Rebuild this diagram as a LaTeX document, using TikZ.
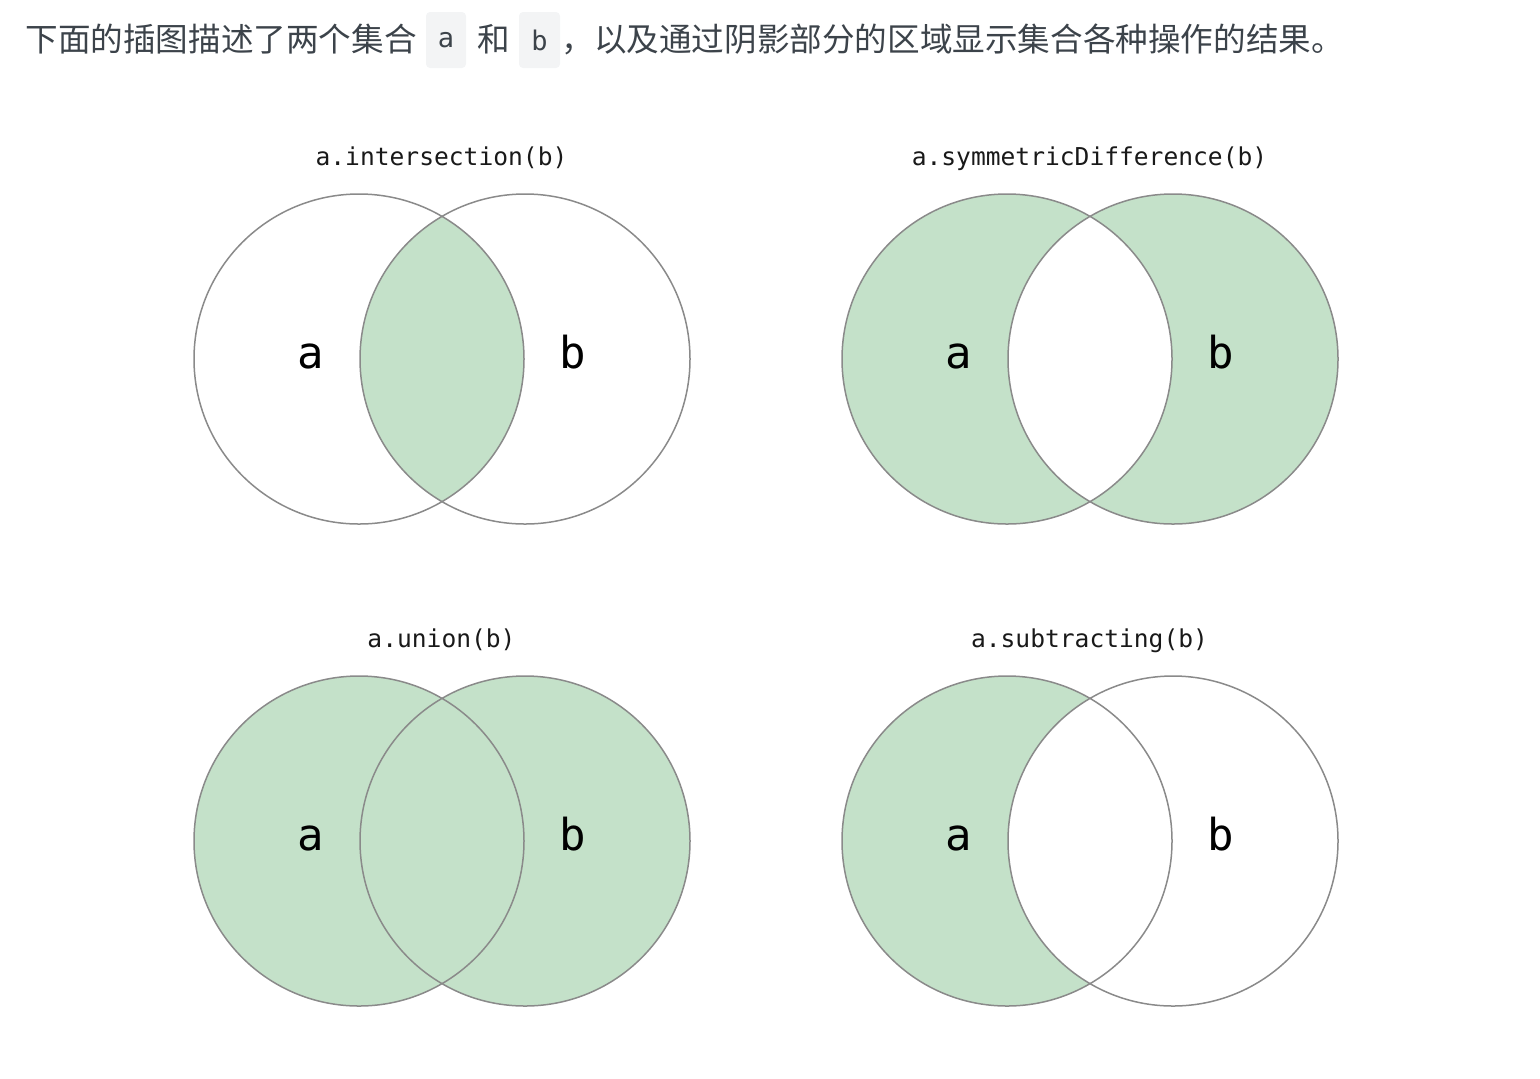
\documentclass[tikz,border=0pt]{standalone}
\usepackage{fontspec}
\setmainfont{Noto Sans CJK SC}
\setmonofont{DejaVu Sans Mono}
\usetikzlibrary{positioning}
\definecolor{setgreen}{RGB}{196,225,201}
\definecolor{ringgray}{RGB}{138,138,138}
\definecolor{textgray}{RGB}{60,67,74}
\definecolor{codebg}{RGB}{243,244,245}

\begin{document}
\begin{tikzpicture}[x=0.5pt,y=-0.5pt,
  ring/.style={draw=ringgray,line width=0.75pt},
  shade/.style={fill=setgreen},
  setlabel/.style={font=\ttfamily\fontsize{22}{26}\selectfont,anchor=base},
  optitle/.style={font=\ttfamily\fontsize{12.3}{15}\selectfont,text=black!90,anchor=base},
  codebox/.style={fill=codebg,rounded corners=2pt,minimum width=20pt,minimum height=28pt,inner sep=0pt,font=\ttfamily\fontsize{13.5}{15}\selectfont,text=textgray},
  intro/.style={font=\fontsize{16.3}{20}\selectfont,text=textgray,inner sep=0pt,anchor=base west}]
  \useasboundingbox (0,0) rectangle (1540,1078);

  % intro line
  \node[intro] (t1) at (25,51) {下面的插图描述了两个集合};
  \node[codebox] (boxa) at (446,40) {a};
  \node[intro] (t2) at (477,51) {和};
  \node[codebox,minimum width=20.5pt] (boxb) at (539.5,40) {b};
  \node[intro] (t3) at (561,51) {，以及通过阴影部分的区域显示集合各种操作的结果。};

  % intersection
  \coordinate (ia) at (359,359);
  \coordinate (ib) at (525,359);
  \begin{scope}
    \clip (ia) circle[radius=82.5pt];
    \fill[shade] (ib) circle[radius=82.5pt];
  \end{scope}
  \draw[ring] (ia) circle[radius=82.5pt] (ib) circle[radius=82.5pt];
  \node[optitle] (ti) at (441.5,165) {a.intersection(b)};
  \node[setlabel] (lia) at (311,368) {a};
  \node[setlabel] (lib) at (573,368) {b};

  % symmetric difference
  \coordinate (sa) at (1007,359);
  \coordinate (sb) at (1173,359);
  \fill[shade,even odd rule] (sa) circle[radius=82.5pt] (sb) circle[radius=82.5pt];
  \draw[ring] (sa) circle[radius=82.5pt] (sb) circle[radius=82.5pt];
  \node[optitle] (ts) at (1089.5,165) {a.symmetricDifference(b)};
  \node[setlabel] (lsa) at (959,368) {a};
  \node[setlabel] (lsb) at (1221,368) {b};

  % union
  \coordinate (ua) at (359,841);
  \coordinate (ub) at (525,841);
  \fill[shade] (ua) circle[radius=82.5pt] (ub) circle[radius=82.5pt];
  \draw[ring] (ua) circle[radius=82.5pt] (ub) circle[radius=82.5pt];
  \node[optitle] (tu) at (441.5,647) {a.union(b)};
  \node[setlabel] (lua) at (311,850) {a};
  \node[setlabel] (lub) at (573,850) {b};

  % subtracting
  \coordinate (da) at (1007,841);
  \coordinate (db) at (1173,841);
  \begin{scope}
    \clip (da) circle[radius=82.5pt];
    \fill[shade,even odd rule] (da) circle[radius=82.5pt] (db) circle[radius=82.5pt];
  \end{scope}
  \draw[ring] (da) circle[radius=82.5pt] (db) circle[radius=82.5pt];
  \node[optitle] (td) at (1089.5,647) {a.subtracting(b)};
  \node[setlabel] (lda) at (959,850) {a};
  \node[setlabel] (ldb) at (1221,850) {b};
\end{tikzpicture}
\end{document}
